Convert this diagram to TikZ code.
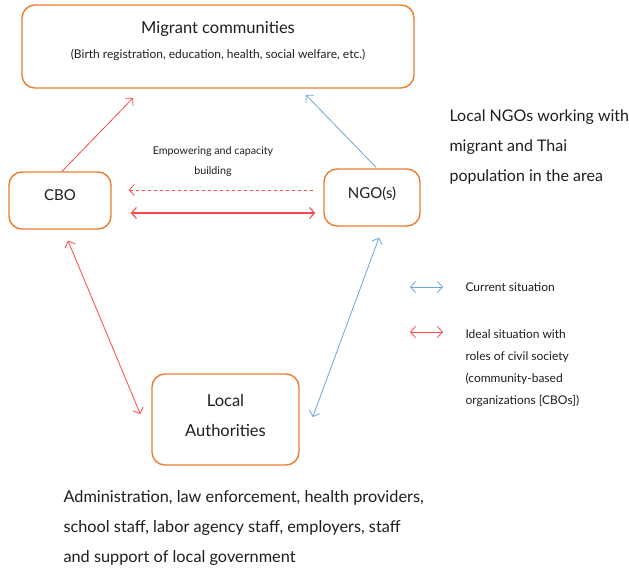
\documentclass[tikz,border=0pt]{standalone}
\usepackage{fontspec}
\setmainfont{Lato}
\usetikzlibrary{arrows.meta}

\definecolor{boxorange}{RGB}{237,125,49}
\definecolor{idealred}{RGB}{255,70,70}
\definecolor{currentblue}{RGB}{110,165,222}
\definecolor{txtgray}{RGB}{30,30,30}

\tikzset{
    actor/.style={draw=boxorange, line width=1.4pt, rounded corners=13pt},
    ideal/.style={draw=idealred, line width=0.8pt},
    current/.style={draw=currentblue, line width=0.8pt},
    >={Straight Barb[length=5pt, width=11pt]}
}

\begin{document}
\begin{tikzpicture}[x=1pt, y=-1pt, every node/.style={text=txtgray}]
    \useasboundingbox (0,0) rectangle (629,570);

    % Target group on top
    \node[actor, minimum width=392pt, minimum height=83pt] (mig) at (218,46.5) {};
    \node[font=\fontsize{16.5}{18}\selectfont] (migtitle) at (218,29) {Migrant communities};
    \node[font=\fontsize{12}{14}\selectfont] (migsub) at (218,55) {(Birth registration, education, health, social welfare, etc.)};

    % Civil society actors
    \node[actor, minimum width=102pt, minimum height=57pt, text depth=10pt, font=\fontsize{15}{18}\selectfont] (cbo) at (60,200.5) {CBO};
    \node[actor, minimum width=96pt, minimum height=57pt, text depth=10pt, font=\fontsize{15}{18}\selectfont] (ngo) at (372,197.5) {NGO(s)};

    % Local authorities
    \node[actor, minimum width=147pt, minimum height=91pt, text depth=9pt, align=center, font=\fontsize{16.5}{30}\selectfont] (la) at (225.5,419.5) {Local\\Authorities};

    % Links up to the communities
    \coordinate (migL) at (133,98);
    \coordinate (migR) at (306,95);
    \draw[ideal, ->] ([xshift=2pt]cbo.north) -- (migL);
    \draw[current, ->] ([shift={(4pt,1pt)}]ngo.north) -- (migR);

    % CBO <-> NGO
    \node[font=\fontsize{10.7}{20}\selectfont, align=center] (emp) at (213,162) {Empowering and capacity\\building};
    \draw[ideal, dashed, <-, shorten <=17pt, shorten >=9pt] ([yshift=10.5pt]cbo.east) -- ([yshift=10.5pt]cbo.east -| ngo.west);
    \draw[ideal, line width=1.1pt, <->, shorten <=19pt, shorten >=8pt] ([yshift=-12.5pt]cbo.east) -- ([yshift=-12.5pt]cbo.east -| ngo.west);

    % Links down to the authorities
    \draw[ideal, <->] ([shift={(8pt,-11pt)}]cbo.south) -- ([shift={(-11pt,5.5pt)}]la.west);
    \draw[current, <->] ([shift={(7pt,-11pt)}]ngo.south) -- ([shift={(13pt,2.5pt)}]la.east);

    % Side note on NGOs
    \node[anchor=north west, align=left, font=\fontsize{16}{30}\selectfont] (ngonote) at (446,106) {Local NGOs working with\\migrant and Thai\\population in the area};

    % Legend
    \node[anchor=west, font=\fontsize{12}{22}\selectfont] (curtxt) at (462,287) {Current situation};
    \draw[current, <->] ([xshift=-52pt]curtxt.west) -- ([xshift=-19pt]curtxt.west);
    \node[anchor=north west, align=left, font=\fontsize{12}{22}\selectfont] (idealtxt) at (462,326) {Ideal situation with\\roles of civil society\\(community-based\\organizations [CBOs])};
    \draw[ideal, <->] ([xshift=-52pt]idealtxt.north west |- 0,332) -- ([xshift=-19pt]idealtxt.north west |- 0,332);

    % Who the authorities are
    \node[anchor=north west, align=left, font=\fontsize{16.3}{30}\selectfont] (lanote) at (60,487) {Administration, law enforcement, health providers,\\school staff, labor agency staff, employers, staff\\and support of local government};
\end{tikzpicture}
\end{document}
